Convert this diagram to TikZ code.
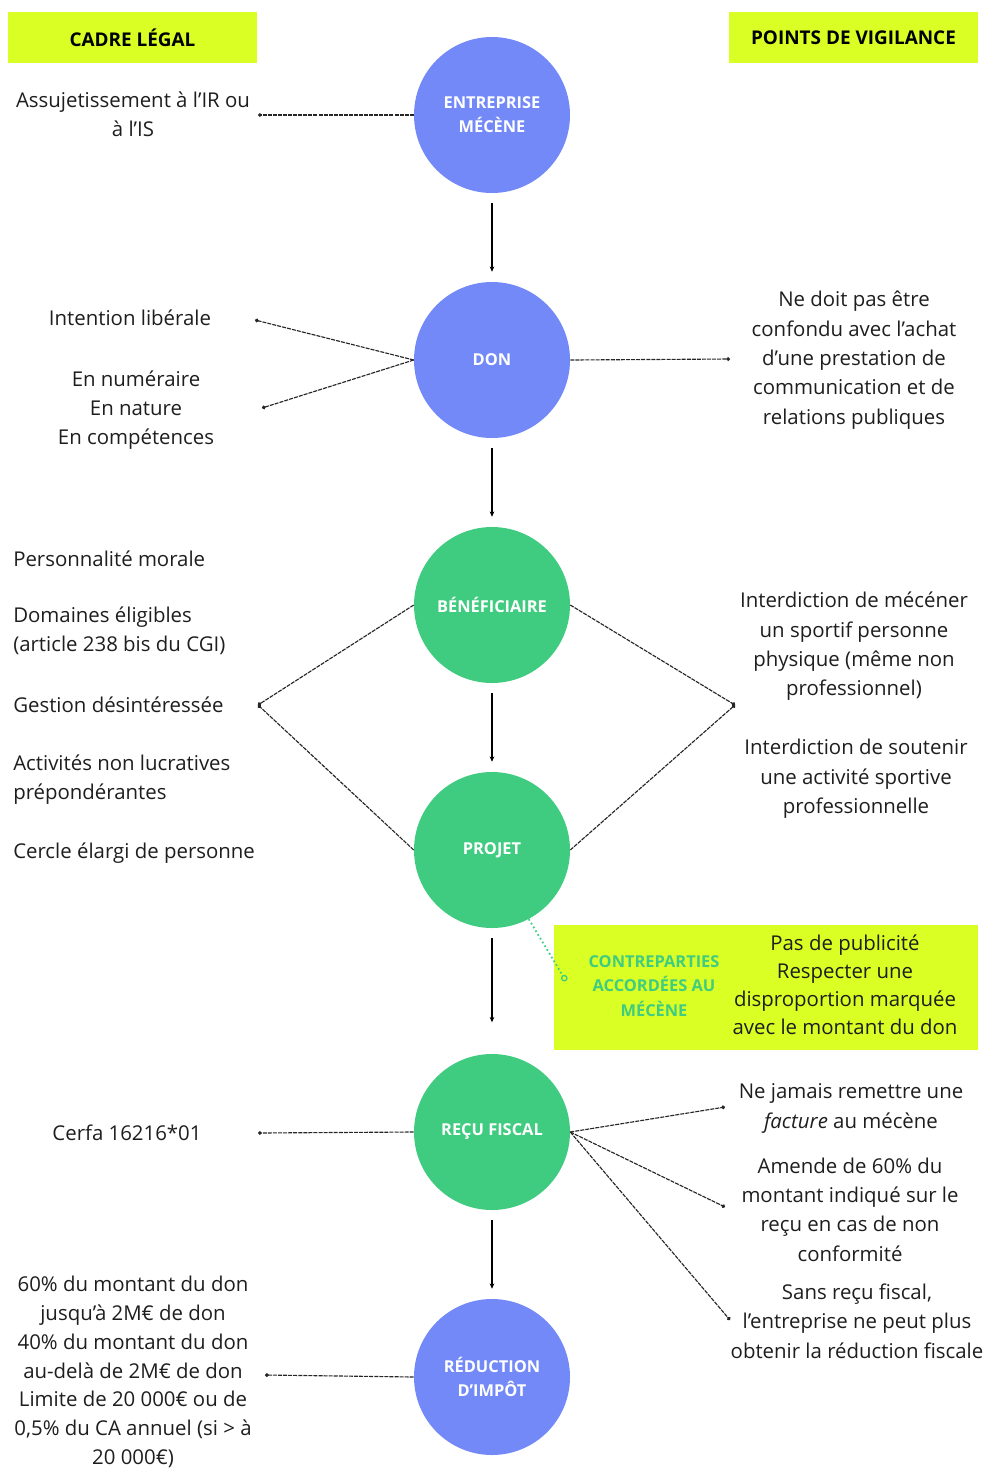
\documentclass[tikz,border=0pt]{standalone}
\usepackage{fontspec}
\setmainfont{Open Sans}
\usetikzlibrary{arrows.meta}
\definecolor{cblue}{RGB}{114,137,247}
\definecolor{cgreen}{RGB}{64,204,128}
\definecolor{clime}{RGB}{218,255,36}
\definecolor{ctext}{RGB}{30,30,30}
\tikzset{
  bluec/.style={circle,fill=cblue,minimum size=117pt,inner sep=0pt,font=\bfseries\fontsize{12.3}{18}\selectfont,text=white,align=center},
  greenc/.style={circle,fill=cgreen,minimum size=117pt,inner sep=0pt,font=\bfseries\fontsize{12.3}{18}\selectfont,text=white,align=center},
  body/.style={font=\fontsize{15.3}{22}\selectfont,text=ctext,align=center,inner sep=0pt},
  bodyl/.style={font=\fontsize{15.3}{22}\selectfont,text=ctext,align=left,anchor=west,inner sep=0pt},
  hdr/.style={fill=clime,minimum width=186.75pt,minimum height=38.25pt,inner sep=0pt,font=\bfseries\fontsize{14.2}{16}\selectfont,text=black},
  conn/.style={draw=black!85,line width=0.85pt,dash pattern=on 3pt off 0.8pt,-{Circle[length=2.8pt]}},
  flow/.style={draw=black,line width=0.8pt,-{Stealth[length=4pt,width=3.5pt]},shorten <=7.5pt,shorten >=7.5pt},
}
\begin{document}
\begin{tikzpicture}[x=0.75pt,y=-0.75pt]
\useasboundingbox (0,0) rectangle (988,1472);
% headers
\node[hdr] (h1) at (132.5,37.5) {CADRE LÉGAL};
\node[hdr] (h2) at (853.5,37.5) {POINTS DE VIGILANCE};
% circles
\node[bluec] (ent) at (492,115) {ENTREPRISE\\MÉCÈNE};
\node[bluec] (don) at (492,360) {DON};
\node[greenc] (ben) at (492,605) {BÉNÉFICIAIRE};
\node[greenc] (proj) at (492,850) {PROJET};
\node[greenc] (recu) at (492,1132) {REÇU FISCAL};
\node[bluec] (red) at (492,1377) {RÉDUCTION\\D'IMPÔT};
% flow arrows
\draw[flow] (ent) -- (don);
\draw[flow] (don) -- (ben);
\draw[flow] (ben) -- (proj);
\draw[flow] (proj.south) -- ++(0,104) coordinate (pr2);
\draw[flow] (recu) -- (red);
% left texts
\node[body] (t1) at (133,114) {Assujetissement à l'IR ou\\à l'IS};
\node[body] (t2) at (130,318) {Intention libérale};
\node[body] (t3) at (136,410) {En numéraire\\En nature\\En compétences};
\node[bodyl] (t4) at (13,559) {Personnalité morale};
\node[bodyl] (t5) at (13,631) {Domaines éligibles\\(article 238 bis du CGI)};
\node[bodyl] (t6) at (13,705) {Gestion désintéressée};
\node[bodyl] (t7) at (13,779.5) {Activités non lucratives\\prépondérantes};
\node[bodyl] (t8) at (13,853) {Cercle élargi de personne};
\node[body] (t9) at (127,1133) {Cerfa 16216*01};
\node[body,font=\fontsize{15.3}{21.6}\selectfont] (t10) at (133,1372) {60\% du montant du don\\jusqu'à 2M€ de don\\40\% du montant du don\\au-delà de 2M€ de don\\Limite de 20 000€ ou de\\0,5\% du CA annuel (si > à\\20 000€)};
% right texts
\node[body] (r1) at (854,360) {Ne doit pas être\\confondu avec l'achat\\d'une prestation de\\communication et de\\relations publiques};
\node[body] (r2) at (854,646.5) {Interdiction de mécéner\\un sportif personne\\physique (même non\\professionnel)};
\node[body] (r3) at (856,779) {Interdiction de soutenir\\une activité sportive\\professionnelle};
\node[body] (r4) at (851,1108.5) {Ne jamais remettre une\\\textit{facture} au mécène};
\node[body] (r5) at (850,1209.5) {Amende de 60\% du\\montant indiqué sur le\\reçu en cas de non\\conformité};
\node[body] (r6) at (857,1321) {Sans reçu fiscal,\\l'entreprise ne peut plus\\obtenir la réduction fiscale};
% contreparties box
\node[fill=clime,minimum width=318pt,minimum height=93.75pt,inner sep=0pt] (cbox) at (766,987.5) {};
\node[font=\bfseries\fontsize{12.3}{18.5}\selectfont,text=cgreen,align=center,inner sep=0pt] (ctit) at (654,986) {CONTREPARTIES\\ACCORDÉES AU\\MÉCÈNE};
\node[font=\fontsize{15.3}{21}\selectfont,text=ctext,align=center,inner sep=0pt] (ctxt) at (845,985) {Pas de publicité\\Respecter une\\disproportion marquée\\avec le montant du don};
\coordinate (cdot) at (566,981);
\draw[cgreen,line width=1.3pt,dotted,-{Circle[open,length=5pt,line width=1pt]}] (proj.-62) -- (cdot);
% connectors
\coordinate (e1) at (258,115);
\draw[conn] (ent.west) -- (e1);
\coordinate (d1) at (255,320);
\coordinate (d2) at (262,408);
\coordinate (d3) at (730,359);
\draw[conn] (don.west) -- (d1);
\draw[conn] (don.west) -- (d2);
\draw[conn] (don.east) -- (d3);
\coordinate (bl) at (258,705);
\coordinate (br) at (735,705);
\draw[conn] (ben.west) -- (bl);
\draw[conn] (proj.west) -- (bl);
\draw[conn] (ben.east) -- (br);
\draw[conn] (proj.east) -- (br);
\coordinate (f1) at (258,1133);
\draw[conn] (recu.west) -- (f1);
\coordinate (f2) at (725,1107);
\coordinate (f3) at (725,1207);
\coordinate (f4) at (730,1320);
\draw[conn] (recu.east) -- (f2);
\draw[conn] (recu.east) -- (f3);
\draw[conn] (recu.east) -- (f4);
\coordinate (g1) at (265,1375);
\draw[conn] (red.west) -- (g1);
\end{tikzpicture}
\end{document}
